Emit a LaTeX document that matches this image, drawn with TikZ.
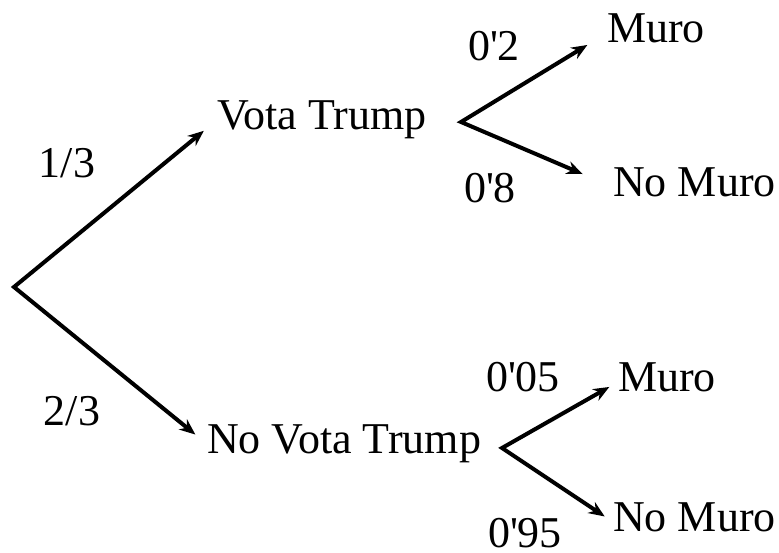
\documentclass[tikz,border=0pt]{standalone}
\usepackage{fontspec}
\setmainfont{Liberation Serif}
\usepackage{tikz}
\usetikzlibrary{arrows.meta}
\tikzset{
  outcome/.style={font=\fontsize{44}{50}\selectfont, inner sep=0pt,
                  text height=29pt, text depth=9.5pt, anchor=west},
  prob/.style={font=\fontsize{44}{50}\selectfont, inner sep=0pt, anchor=base},
  branch/.style={line width=4pt, line join=miter,
                 {Stealth[length=16pt,width=13pt]}-{Stealth[length=16pt,width=13pt]}}
}

\begin{document}
\begin{tikzpicture}[x=1pt, y=-1pt]
		\useasboundingbox (0,0) rectangle (779,553);

		% first stage
		\coordinate (root) at (14,287);
		\node[outcome] (vt) at (217,120) {Vota Trump};
		\node[outcome] (nvt) at (207,444) {No Vota Trump};

		% second stage
		\coordinate (vtb) at (461,122);
		\coordinate (nvtb) at (502,448);
		\node[outcome] (muro1) at (607,33) {Muro};
		\node[outcome] (nomuro1) at (613,187) {No Muro};
		\node[outcome] (muro2) at (618,382) {Muro};
		\node[outcome] (nomuro2) at (613,522) {No Muro};

		% probabilities
		\node[prob] (p13) at (67,178) {1/3};
		\node[prob] (p23) at (72,425) {2/3};
		\node[prob] (p02) at (494,61) {0\textquotesingle2};
		\node[prob] (p08) at (490,203) {0\textquotesingle8};
		\node[prob] (p005) at (523,391) {0\textquotesingle05};
		\node[prob] (p095) at (525,547) {0\textquotesingle95};

		% branches
		\draw[branch, shorten <=17pt, shorten >=15pt] (vt.west) -- (root) -- (nvt.west);
		\draw[branch, shorten <=23pt, shorten >=33pt] (muro1.west) -- (vtb) -- (nomuro1.west);
		\draw[branch, shorten <=10pt, shorten >=10pt] (muro2.west) -- (nvtb) -- (nomuro2.west);

	\end{tikzpicture}
\end{document}
